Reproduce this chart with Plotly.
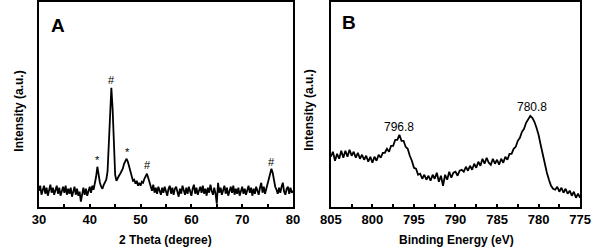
import plotly.graph_objects as go

# ---- Panel A: XRD, 2 theta from 30 to 80 step 0.25 ----
xrd_theta_start = 30.0
xrd_theta_step = 0.25
xrd_intensity = [
    16, 21, 12, 18,  21, 13, 19, 11,  17, 22, 14, 19,  12, 18, 21, 13,
    19, 11, 17, 20,  14, 21, 12, 18,  13, 19, 10, 17,  20, 12, 18, 11,
    15, 5, 14, 19,   12, 18, 11, 17,  20, 14, 21, 17,  22, 30, 40, 31,
    24, 20, 18, 22,  24, 27, 35, 60,  95, 119, 98, 55, 32, 26, 29, 31,
    33, 36, 38, 43,  46, 48, 45, 40,  34, 30, 26, 27,  23, 26, 21, 24,
    21, 25, 24, 28,  30, 33, 29, 24,  20, 16, 22, 14,  19, 13, 20, 15,
    12, 19, 14, 20,  16, 11, 18, 21,  13, 19, 12, 18,  20, 14, 10, 18,
    13, 21, 15, 12,  19, 13, 20, 14,  11, 18, 22, 13,  19, 12, 17, 20,
    14, 21, 13, 18,  11, 19, 14, 22,  16, 12, 19, 13,  3, 24, 14, 19,
    12, 18, 21, 13,  19, 11, 17, 20,  14, 21, 12, 18,  13, 19, 11, 17,
    20, 13, 18, 12,  16, 21, 14, 19,  11, 18, 13, 20,  16, 12, 19, 24,
    14, 20, 13, 18,  20, 26, 33, 38,  34, 26, 20, 17,  13, 19, 14, 20,
    24, 15, 12, 18,  20, 13, 19, 14,  16,
]
xrd_theta = [xrd_theta_start + i * xrd_theta_step for i in range(len(xrd_intensity))]

xrd_mark_x = [41.5, 44.3, 47.4, 51.3, 75.8]
xrd_mark_y = [47, 127, 55, 42, 45]
xrd_mark_text = ["*", "#", "*", "#", "#"]

# ---- Panel B: XPS, binding energy from 805 down to 775 step 0.25 ----
xps_energy_start = 805.0
xps_energy_step = -0.25
xps_intensity = [
    50, 55, 46, 53,  48, 56, 49, 56,  50, 57, 51, 55,  49, 54, 48, 52,
    47, 51, 45, 50,  44, 50, 46, 52,  49, 54, 54, 58,  55, 61, 61, 67,
    67, 72, 66, 66,  60, 58, 51, 46,  39, 38, 32, 33,  28, 32, 27, 31,
    26, 32, 28, 34,  25, 31, 21, 32,  27, 35, 29, 34,  35, 31, 36, 37,
    35, 40, 36, 41,  37, 43, 39, 45,  41, 48, 43, 49,  44, 42, 48, 43,
    47, 42, 48, 44,  50, 47, 53, 53,  58, 60, 66, 69,  75, 78, 84, 87,
    91, 89, 85, 79,  72, 62, 52, 42,  34, 27, 21, 18,  17, 20, 15, 19,
    14, 18, 13, 16,  11, 15, 9, 13,   9,
]
xps_energy = [xps_energy_start + i * xps_energy_step for i in range(len(xps_intensity))]

xps_peak_x = [796.8, 780.8]
xps_peak_y = [80, 100]
xps_peak_text = ["796.8", "780.8"]

FONT = "Liberation Sans, Arial, sans-serif"
W, H = 602, 248

fig = go.Figure()
fig.add_trace(go.Scatter(x=xrd_theta, y=xrd_intensity, mode="lines",
                         line=dict(color="black", width=1.8), xaxis="x", yaxis="y",
                         showlegend=False, hoverinfo="skip"))
fig.add_trace(go.Scatter(x=xps_energy, y=xps_intensity, mode="lines",
                         line=dict(color="black", width=1.8), xaxis="x2", yaxis="y2",
                         showlegend=False, hoverinfo="skip"))

ydom = [1 - 206.7 / H, 1 - 2 / H]
axis_common = dict(showline=True, linecolor="black", linewidth=2, mirror=True,
                   showgrid=False, zeroline=False)
tick_font = dict(family=FONT, size=13, color="black", weight="bold")

fig.update_layout(
    width=W, height=H, margin=dict(l=0, r=0, t=0, b=0),
    plot_bgcolor="white", paper_bgcolor="white",
    xaxis=dict(domain=[29 / W, 292.7 / W], range=[30, 80], tickvals=[30, 40, 50, 60, 70, 80],
               ticks="inside", ticklen=3, tickwidth=2, tickcolor="black",
               minor=dict(tickvals=[35, 45, 55, 65, 75], ticks="inside", ticklen=3,
                          tickwidth=2, tickcolor="black"),
               tickfont=tick_font, anchor="y", **axis_common),
    yaxis=dict(domain=ydom, range=[0, 205], showticklabels=False, ticks="",
               anchor="x", **axis_common),
    xaxis2=dict(domain=[332 / W, 590.7 / W], range=[805, 775],
                tickvals=[805, 800, 795, 790, 785, 780, 775],
                ticks="inside", ticklen=3, tickwidth=2, tickcolor="black",
                minor=dict(tickvals=[802.5, 797.5, 792.5, 787.5, 782.5, 777.5], ticks="inside",
                           ticklen=3, tickwidth=2, tickcolor="black"),
                tickfont=tick_font, anchor="y2", **axis_common),
    yaxis2=dict(domain=ydom, range=[0, 205], showticklabels=False, ticks="",
                anchor="x2", **axis_common),
)

ann = []
for x, y, t in zip(xrd_mark_x, xrd_mark_y, xrd_mark_text):
    ann.append(dict(x=x, y=y, xref="x", yref="y", text=t, showarrow=False,
                    font=dict(family=FONT, size=11, color="black")))
for x, y, t in zip(xps_peak_x, xps_peak_y, xps_peak_text):
    ann.append(dict(x=x, y=y, xref="x2", yref="y2", text=t, showarrow=False,
                    font=dict(family=FONT, size=12, color="black")))

def px(xp, yp):
    return xp / W, 1 - yp / H

for (xp, yp), t, sz, ang in [((49, 25), "A", 19, 0), ((351, 22), "B", 19, 0),
                             ((160, 240), "2 Theta (degree)", 12, 0),
                             ((462, 240), "Binding Energy (eV)", 12, 0),
                             ((8, 111), "Intensity (a.u.)", 12, -90),
                             ((309, 110), "Intensity (a.u.)", 12, -90)]:
    xx, yy = px(xp, yp)
    ann.append(dict(x=xx, y=yy, xref="paper", yref="paper", text=t, showarrow=False,
                    textangle=ang, xanchor="center", yanchor="middle",
                    font=dict(family=FONT, size=sz, color="black", weight="bold")))

fig.update_layout(annotations=ann)
fig.write_html("out.html", config={"displayModeBar": False},
               post_script="document.body.style.margin='0';document.body.style.overflow='hidden';")
